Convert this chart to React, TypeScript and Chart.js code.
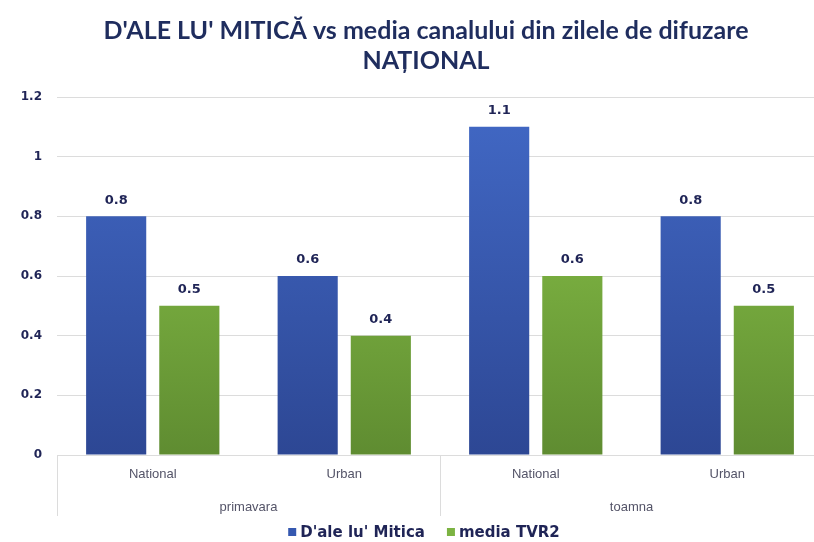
import React, { useEffect, useRef } from "react";
import { Chart, registerables } from "chart.js";

Chart.register(...registerables);

const titleLines = ["D'ALE LU' MITICĂ vs media canalului din zilele de difuzare", "NAȚIONAL"];
const categories = ["National", "Urban", "National", "Urban"];
const groups = ["primavara", "toamna"];
const groupSizes = [2, 2];
const seriesNames = ["D'ale lu' Mitica", "media TVR2"];
const miticaValues = [0.8, 0.6, 1.1, 0.8];
const tvr2Values = [0.5, 0.4, 0.6, 0.5];
const yMin = 0;
const yMax = 1.2;
const yStep = 0.2;

const NAVY = "#1f2456";
const GRID = "#dcdcdc";

function makeGradient(chart: any, top: string, bottom: string) {
  const area = chart.chartArea;
  if (!area) return top;
  const g = chart.ctx.createLinearGradient(0, area.top, 0, area.bottom);
  g.addColorStop(0, top);
  g.addColorStop(1, bottom);
  return g;
}

const overlayPlugin = {
  id: "overlay",
  afterDatasetsDraw(chart: any) {
    const ctx = chart.ctx;
    ctx.save();
    ctx.font = "bold 13px 'DejaVu Sans', Verdana, sans-serif";
    ctx.fillStyle = NAVY;
    ctx.textAlign = "center";
    ctx.textBaseline = "middle";
    chart.data.datasets.forEach((ds: any, i: number) => {
      const meta = chart.getDatasetMeta(i);
      meta.data.forEach((bar: any, j: number) => {
        ctx.fillText(String(ds.data[j]), bar.x, bar.y - 16);
      });
    });
    ctx.restore();
  },
  afterDraw(chart: any) {
    const ctx = chart.ctx;
    const area = chart.chartArea;
    const xs = chart.scales.x;
    ctx.save();
    // title
    ctx.fillStyle = "#1f2d5e";
    ctx.font = "bold 25px Lato, 'Open Sans', sans-serif";
    ctx.textAlign = "center";
    ctx.textBaseline = "middle";
    ctx.fillText(titleLines[0], 426, 31);
    ctx.fillText(titleLines[1], 426, 61);

    // group separators and labels
    const bounds: number[] = [area.left];
    let idx = 0;
    groupSizes.forEach((n) => {
      idx += n;
      if (idx < categories.length) {
        bounds.push((xs.getPixelForValue(idx - 1) + xs.getPixelForValue(idx)) / 2);
      } else {
        bounds.push(area.right);
      }
    });
    ctx.strokeStyle = GRID;
    ctx.lineWidth = 1;
    bounds.forEach((bx) => {
      ctx.beginPath();
      ctx.moveTo(Math.round(bx) + 0.5, area.bottom);
      ctx.lineTo(Math.round(bx) + 0.5, 516);
      ctx.stroke();
    });
    ctx.fillStyle = "#545468";
    ctx.font = "13px 'Liberation Sans Narrow', 'Arial Narrow', sans-serif";
    groups.forEach((g, i) => {
      ctx.fillText(g, (bounds[i] + bounds[i + 1]) / 2, 507);
    });

    // legend
    ctx.font = "bold 15px 'DejaVu Sans', Verdana, sans-serif";
    const colors = ["#3558b0", "#7cb342"];
    const sq = 8;
    const gap = 4;
    const itemGap = 22;
    const widths = seriesNames.map((s) => sq + gap + ctx.measureText(s).width);
    const total = widths.reduce((a, b) => a + b, 0) + itemGap * (seriesNames.length - 1);
    let x = 424 - total / 2;
    const ly = 532;
    ctx.textAlign = "left";
    seriesNames.forEach((s, i) => {
      ctx.fillStyle = colors[i];
      ctx.fillRect(x, ly - sq / 2, sq, sq);
      ctx.fillStyle = NAVY;
      ctx.fillText(s, x + sq + gap, ly + 1);
      x += widths[i] + itemGap;
    });
    ctx.restore();
  },
};

function BarChart() {
  const ref = useRef<HTMLCanvasElement | null>(null);
  useEffect(() => {
    if (!ref.current) return;
    const chart = new Chart(ref.current, {
      type: "bar",
      data: {
        labels: categories,
        datasets: [
          {
            label: seriesNames[0],
            data: miticaValues,
            backgroundColor: (c: any) => makeGradient(c.chart, "#4269c6", "#2d4794"),
            borderWidth: 0,
          },
          {
            label: seriesNames[1],
            data: tvr2Values,
            backgroundColor: (c: any) => makeGradient(c.chart, "#8fca4c", "#5f8c31"),
            borderWidth: 0,
          },
        ],
      },
      options: {
        responsive: false,
        animation: false,
        layout: { padding: { top: 97, right: 17, bottom: 0, left: 0 } },
        plugins: {
          legend: { display: false },
          title: { display: false },
          tooltip: { enabled: false },
        },
        datasets: {
          bar: { categoryPercentage: 0.764, barPercentage: 0.822 },
        },
        scales: {
          x: {
            grid: { display: false, drawTicks: false },
            border: { display: true, color: GRID },
            ticks: {
              color: "#545468",
              font: { family: "'Liberation Sans Narrow', 'Arial Narrow', sans-serif", size: 13 },
              padding: 12,
              maxRotation: 0,
            },
            afterFit: (s: any) => {
              s.height = 87;
            },
          },
          y: {
            min: yMin,
            max: yMax,
            grid: { color: GRID, drawTicks: false },
            border: { display: false },
            ticks: {
              stepSize: yStep,
              color: NAVY,
              padding: 15,
              font: { family: "'DejaVu Sans', Verdana, sans-serif", size: 12, weight: "bold" },
              callback: (v: any) => String(Number(Number(v).toFixed(1))),
            },
            afterFit: (s: any) => {
              s.width = 57;
            },
          },
        },
      },
      plugins: [overlayPlugin],
    } as any);
    return () => chart.destroy();
  }, []);
  return <canvas ref={ref} width={840} height={542} style={{ width: 840, height: 542, display: "block" }} />;
}

export default function App() {
  return (
    <div
      style={{
        position: "fixed",
        left: 0,
        top: 0,
        width: 814,
        height: 542,
        overflow: "hidden",
        background: "#ffffff",
      }}
    >
      <BarChart />
    </div>
  );
}
